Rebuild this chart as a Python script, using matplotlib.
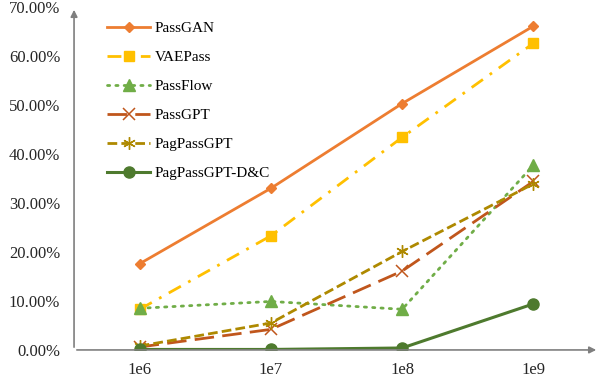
import matplotlib
matplotlib.use("Agg")
import matplotlib.pyplot as plt
from matplotlib.ticker import FuncFormatter

plt.rcParams['font.family'] = ['Liberation Serif', 'DejaVu Serif']

# data
sizes = ["1e6", "1e7", "1e8", "1e9"]
passgan = [17.6, 33.0, 50.3, 66.1]
vaepass = [8.3, 23.3, 43.4, 62.6]
passflow = [8.5, 9.9, 8.3, 37.7]
passgpt = [0.6, 4.2, 16.1, 34.4]
pagpassgpt = [0.8, 5.5, 20.1, 33.9]
pagpassgpt_dc = [0.1, 0.1, 0.4, 9.4]

x = list(range(len(sizes)))

fig = plt.figure(figsize=(6.02, 3.91), dpi=100)
ax = fig.add_axes([0.123, 0.105, 0.872, 0.877])

ax.plot(x, passgan, color='#ED7D31', lw=2, ls='-', marker='D', ms=5.5, label='PassGAN')
ax.plot(x, vaepass, color='#FFC000', lw=2, ls=(0, (5, 3, 1, 3)), marker='s', ms=7.5, label='VAEPass')
ax.plot(x, passflow, color='#70AD47', lw=2, ls=(0, (0.8, 2.2)), dash_capstyle='round',
        marker='^', ms=8, label='PassFlow')
ax.plot(x, passgpt, color='#C0561C', lw=2, ls=(0, (7, 3)), marker='x', ms=8, mew=1.1, label='PassGPT')
ax.plot(x, pagpassgpt, color='#AE8900', lw=2, ls=(0, (3.5, 1.5)), marker=(6, 2, 0), ms=9,
        mew=1, label='PagPassGPT')
ax.plot(x, pagpassgpt_dc, color='#4E7A2E', lw=2.2, ls='-', marker='o', ms=8, label='PagPassGPT-D&C')

ax.set_xlim(-0.5, 3.5)
ax.set_ylim(0, 70)
ax.set_xticks(x)
ax.set_xticklabels(sizes)
ax.set_yticks(range(0, 71, 10))
ax.yaxis.set_major_formatter(FuncFormatter(lambda v, p: f"{v:.2f}%"))
ax.tick_params(length=0, labelsize=12, colors='#262626')
ax.tick_params(axis='y', pad=10)
ax.tick_params(axis='x', pad=9)

for s in ['top', 'right', 'left', 'bottom']:
    ax.spines[s].set_visible(False)

# axis lines with arrow heads
ax.annotate('', xy=(1.0, 0), xytext=(0, 0), xycoords='axes fraction',
            arrowprops=dict(arrowstyle='-|>', color='#7F7F7F', lw=1.2, mutation_scale=10))
ax.annotate('', xy=(0, 1.0), xytext=(0, 0), xycoords='axes fraction',
            arrowprops=dict(arrowstyle='-|>', color='#7F7F7F', lw=1.2, mutation_scale=10))

ax.legend(loc='upper left', bbox_to_anchor=(0.063, 0.957), frameon=False, fontsize=11,
          handlelength=2.8, labelspacing=1.0, handletextpad=0.3,
          borderpad=0, borderaxespad=0)

fig.savefig("out.png", dpi=100)
